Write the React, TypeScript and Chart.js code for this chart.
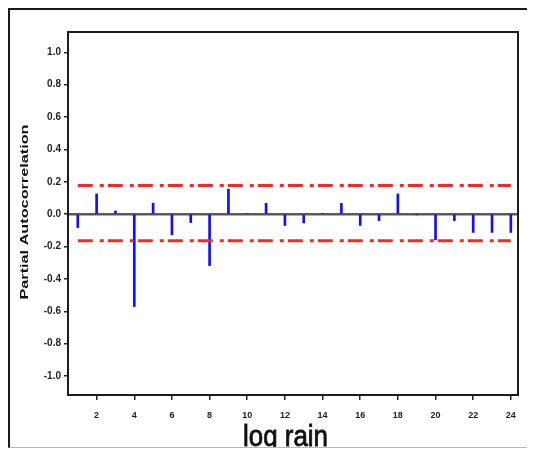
import React, { useEffect, useRef } from 'react';
import { Chart, registerables } from 'chart.js';

Chart.register(...registerables);

const LAGS = [1, 2, 3, 4, 5, 6, 7, 8, 9, 10, 11, 12, 13, 14, 15, 16, 17, 18, 19, 20, 21, 22, 23, 24];
const PACF = [-0.083, 0.125, 0.02, -0.571, 0.068, -0.128, -0.052, -0.318, 0.155, 0.005, 0.067, -0.07, -0.054, 0.004, 0.067, -0.07, -0.04, 0.125, -0.005, -0.159, -0.04, -0.113, -0.113, -0.113];
const UPPER_LIMIT = 0.177;
const LOWER_LIMIT = -0.165;
const X_TICKS = [2, 4, 6, 8, 10, 12, 14, 16, 18, 20, 22, 24];
const Y_TICKS = [-1.0, -0.8, -0.6, -0.4, -0.2, 0.0, 0.2, 0.4, 0.6, 0.8, 1.0];
const X_TITLE = 'log rain';
const Y_TITLE = 'Partial Autocorrelation';

const extraText = {
  id: 'extraText',
  afterDraw(chart: any) {
    const ctx = chart.ctx;
    const { left, top, right, bottom } = chart.chartArea;
    ctx.save();
    ctx.strokeStyle = '#1c1c1c';
    ctx.lineWidth = 2;
    ctx.strokeRect(left, top, right - left, bottom - top);
    ctx.restore();

    // y title
    ctx.save();
    ctx.fillStyle = '#111';
    ctx.font = 'bold 10px "Liberation Sans", Arial, sans-serif';
    const wy = ctx.measureText(Y_TITLE).width;
    ctx.translate(17, 204);
    ctx.rotate(-Math.PI / 2);
    ctx.scale(175 / wy, 1);
    ctx.textAlign = 'center';
    ctx.textBaseline = 'middle';
    ctx.fillText(Y_TITLE, 0, 0);
    ctx.restore();

    // x title
    ctx.save();
    ctx.fillStyle = '#111';
    ctx.strokeStyle = '#111';
    ctx.lineWidth = 0.8;
    ctx.font = '29px "Liberation Sans Narrow", "Liberation Sans", Arial, sans-serif';
    const wx = ctx.measureText(X_TITLE).width;
    ctx.translate(277.5, 438);
    ctx.scale(85 / wx, 1);
    ctx.textAlign = 'center';
    ctx.textBaseline = 'alphabetic';
    ctx.fillText(X_TITLE, 0, 0);
    ctx.strokeText(X_TITLE, 0, 0);
    ctx.restore();
  },
};

export default function App() {
  const ref = useRef<HTMLCanvasElement | null>(null);

  useEffect(() => {
    if (!ref.current) return;
    const xMin = 0.48;
    const xMax = 24.38;
    const chart = new Chart(ref.current, {
      type: 'bar',
      data: {
        datasets: [
          {
            type: 'line',
            data: [{ x: xMin, y: 0 }, { x: xMax, y: 0 }],
            borderColor: '#5a5a5a',
            borderWidth: 2.5,
            pointRadius: 0,
            order: 3,
          } as any,
          {
            type: 'bar',
            data: LAGS.map((l, i) => ({ x: l, y: PACF[i] })),
            backgroundColor: '#1010ff',
            barThickness: 2,
            order: 1,
          } as any,
          {
            type: 'line',
            data: [{ x: LAGS[0], y: UPPER_LIMIT }, { x: LAGS[LAGS.length - 1], y: UPPER_LIMIT }],
            borderColor: '#ff2626',
            borderWidth: 3,
            borderDash: [15, 7, 4, 4],
            pointRadius: 0,
            order: 0,
          } as any,
          {
            type: 'line',
            data: [{ x: LAGS[0], y: LOWER_LIMIT }, { x: LAGS[LAGS.length - 1], y: LOWER_LIMIT }],
            borderColor: '#ff2626',
            borderWidth: 3,
            borderDash: [15, 7, 4, 4],
            pointRadius: 0,
            order: 0,
          } as any,
        ],
      },
      options: {
        animation: false,
        responsive: false,
        maintainAspectRatio: false,
        layout: { padding: { left: 0, right: 17, top: 24, bottom: 0 } },
        plugins: { legend: { display: false }, tooltip: { enabled: false } },
        scales: {
          x: {
            type: 'linear',
            offset: false,
            min: xMin,
            max: xMax,
            afterBuildTicks: (s: any) => {
              s.ticks = X_TICKS.map((v) => ({ value: v }));
            },
            afterFit: (s: any) => {
              s.height = 52;
            },
            grid: { offset: false, drawOnChartArea: false, drawTicks: true, tickLength: 5, color: '#222', lineWidth: 1.5 },
            border: { display: false },
            ticks: {
              color: '#222',
              padding: 10,
              maxRotation: 0,
              autoSkip: false,
              font: { family: '"Liberation Sans", Arial, sans-serif', size: 9, weight: 'bold' },
              callback: (v: any) => String(v),
            },
          },
          y: {
            type: 'linear',
            min: -1.1175,
            max: 1.1256,
            afterBuildTicks: (s: any) => {
              s.ticks = Y_TICKS.map((v) => ({ value: v }));
            },
            afterFit: (s: any) => {
              s.width = 60;
            },
            grid: { drawOnChartArea: false, drawTicks: true, tickLength: 4, color: '#222', lineWidth: 1.5 },
            border: { display: false },
            ticks: {
              color: '#222',
              padding: 3,
              autoSkip: false,
              font: { family: '"Liberation Sans", Arial, sans-serif', size: 10, weight: 'bold' },
              callback: (v: any) => Number(v).toFixed(1),
            },
          },
        },
      },
      plugins: [extraText],
    } as any);
    return () => chart.destroy();
  }, []);

  return (
    <div style={{ position: 'relative', width: 527, height: 440 }}>
      <div
        style={{
          position: 'absolute',
          left: 0,
          top: 0,
          width: 527,
          height: 440,
          boxSizing: 'border-box',
          borderLeft: '2px solid #1a1a1a',
          borderTop: '2px solid #1a1a1a',
          borderBottom: '1px solid #b8b8b8',
        }}
      />
      <canvas
        ref={ref}
        width={527}
        height={439}
        style={{ position: 'absolute', left: 0, top: 0, width: 527, height: 439 }}
      />
    </div>
  );
}
